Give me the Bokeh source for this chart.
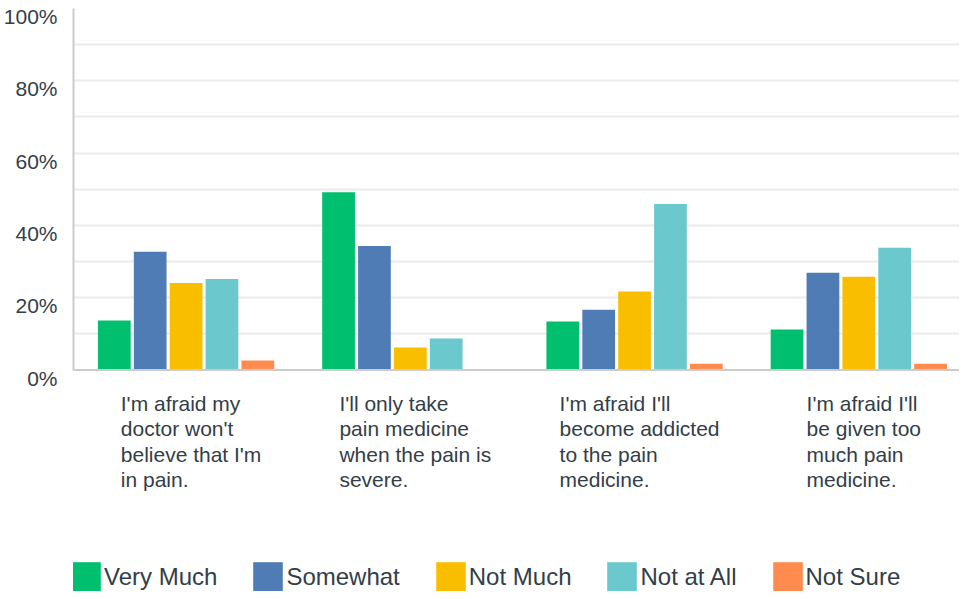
from bokeh.plotting import figure
from bokeh.models import ColumnDataSource, Range1d, FixedTicker, Span, LinearAxis
from bokeh.transform import dodge
from bokeh.core.properties import value
from bokeh.embed import file_html
from bokeh.resources import INLINE

categories = [
    "I'm afraid my\ndoctor won't\nbelieve that I'm\nin pain.",
    "I'll only take\npain medicine\nwhen the pain is\nsevere.",
    "I'm afraid I'll\nbecome addicted\nto the pain\nmedicine.",
    "I'm afraid I'll\nbe given too\nmuch pain\nmedicine.",
]
series_names = ["Very Much", "Somewhat", "Not Much", "Not at All", "Not Sure"]
# percentages
very_much = [13.7, 49.2, 13.4, 11.2]
somewhat = [32.7, 34.3, 16.7, 26.9]
not_much = [24.1, 6.2, 21.7, 25.8]
not_at_all = [25.2, 8.7, 45.9, 33.8]
not_sure = [2.6, 0.0, 1.7, 1.7]
y_ticks = [0, 20, 40, 60, 80, 100]
y_tick_labels = ["0%", "20%", "40%", "60%", "80%", "100%"]
grid_ticks = [10, 20, 30, 40, 50, 60, 70, 80, 90, 100]

colors = ["#00BF6F", "#507CB6", "#F9BE00", "#6BC8CD", "#FF8B4F"]
text_color = "#333e48"
FONT = "Liberation Sans"

H = 591             # canvas height
TOP = 8             # space above the frame
PX_PER_PCT = 3.615  # pixels per 1%
LABEL_DROP = 8 / PX_PER_PCT  # tick labels sit 8px below their gridlines

y_start = 100 - (H - TOP) / PX_PER_PCT

src = ColumnDataSource(dict(
    x=list(range(len(categories))),
    label=categories,
    s0=very_much, s1=somewhat, s2=not_much, s3=not_at_all, s4=not_sure,
))

p = figure(width=959, height=H, output_backend="svg", toolbar_location=None,
           x_range=Range1d(-0.502, 3.449),
           y_range=Range1d(y_start, 100),
           title=None, min_border_left=66, min_border_right=0,
           min_border_top=TOP, min_border_bottom=0)
p.outline_line_color = None
p.extra_y_ranges = {"labels": Range1d(y_start + LABEL_DROP, 100 + LABEL_DROP)}

pitch = 0.16
bar_w = 0.146
for i, name in enumerate(series_names):
    p.vbar(x=dodge("x", (i - 2) * pitch), top=f"s{i}", bottom=0, width=bar_w,
           source=src, fill_color=colors[i], line_color=None, legend_label=name)

# grid
p.xgrid.visible = False
p.ygrid.ticker = FixedTicker(ticks=grid_ticks)
p.ygrid.grid_line_color = "#ebebeb"
p.ygrid.grid_line_width = 2

# y axis: line only
ya = p.yaxis[0]
ya.bounds = (0, 100)
ya.ticker = FixedTicker(ticks=[])
ya.axis_line_color = "#cccccc"
ya.axis_line_width = 2
ya.major_tick_line_color = None
ya.minor_tick_line_color = None
ya.major_label_standoff = 0

# y axis: tick labels
la = LinearAxis(y_range_name="labels", ticker=FixedTicker(ticks=y_ticks),
                major_label_overrides=dict(zip(y_ticks, y_tick_labels)),
                axis_line_color=None, major_tick_line_color=None,
                minor_tick_line_color=None, major_label_standoff=10,
                major_label_text_font=FONT, major_label_text_font_size="21px",
                major_label_text_color=text_color)
p.add_layout(la, "left")

p.xaxis.visible = False

# baseline (x axis line)
p.add_layout(Span(location=0, dimension="width", line_color="#cccccc", line_width=2))

# category labels
p.text(x="x", y=0, text="label", source=src, x_offset=5, y_offset=22,
       anchor="top_center", text_align="left", text_baseline="top",
       text_font=value(FONT), text_font_size="21px", text_color=text_color,
       text_line_height=1.10)

lg = p.legend[0]
lg.location = (-6, -4)
lg.orientation = "horizontal"
lg.glyph_width = 37
lg.glyph_height = 37
lg.label_height = 37
lg.label_standoff = 0
lg.spacing = 32
lg.padding = 0
lg.margin = 0
lg.border_line_color = None
lg.background_fill_alpha = 0
lg.label_text_font = FONT
lg.label_text_font_size = "24px"
lg.label_text_color = text_color

open("out.html", "w").write(file_html(p, INLINE))
